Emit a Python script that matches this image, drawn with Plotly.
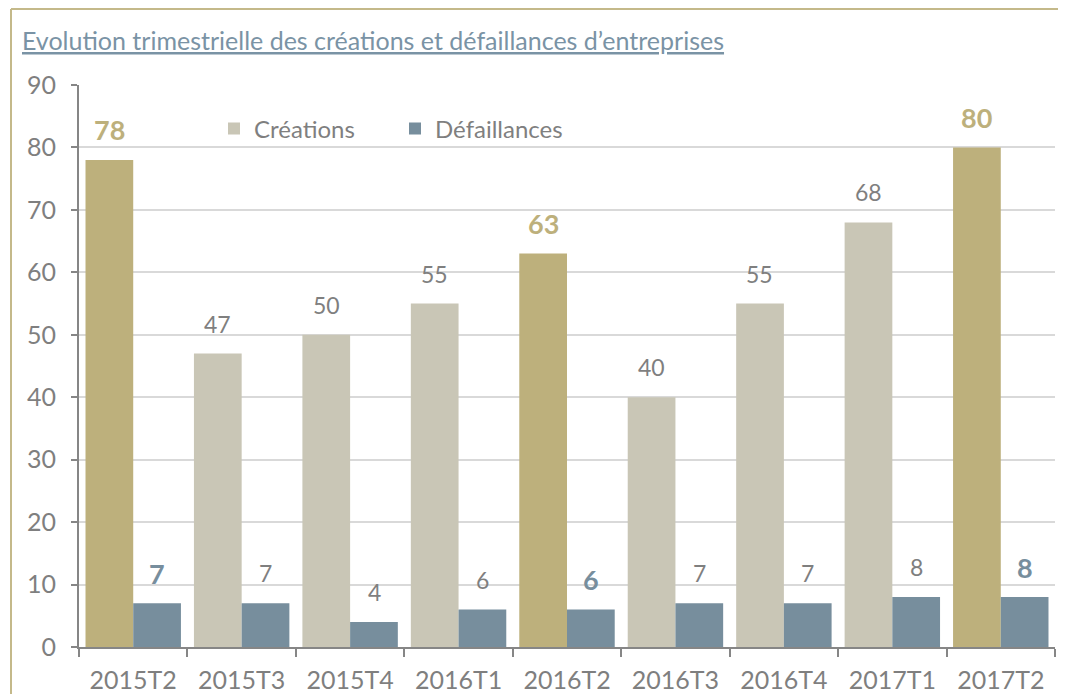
import plotly.graph_objects as go

categories = ["2015T2", "2015T3", "2015T4", "2016T1", "2016T2", "2016T3", "2016T4", "2017T1", "2017T2"]
creations = [78, 47, 50, 55, 63, 40, 55, 68, 80]
defaillances = [7, 7, 4, 6, 6, 7, 7, 8, 8]
highlight = [True, False, False, False, True, False, False, False, True]
y_ticks = [0, 10, 20, 30, 40, 50, 60, 70, 80, 90]

GOLD = "#BDB07C"
BEIGE = "#C9C6B6"
BLUE = "#778E9D"
GREY = "#7F7F7F"
FONT = "Lato"

crea_colors = [GOLD if h else BEIGE for h in highlight]

# page offset (body margin of the html page); figure sized to fit the window
OFF = 8
W, H = 1058, 686
L, R, T, B = 71, 11, 77, 47
pw, ph = W - L - R, H - T - B


def px_x(p):
    return (p - OFF - L) / pw


def px_y(p):
    return (H - B - (p - OFF)) / ph


fig = go.Figure()
fig.add_trace(go.Bar(x=categories, y=creations, marker=dict(color=crea_colors, line=dict(width=0)),
                     showlegend=False, name="Créations"))
fig.add_trace(go.Bar(x=categories, y=defaillances, marker=dict(color=BLUE, line=dict(width=0)),
                     showlegend=False, name="Défaillances"))
# legend proxies
fig.add_trace(go.Scatter(x=[None], y=[None], mode="markers", name="Créations",
                         marker=dict(symbol="square", size=14, color=BEIGE)))
fig.add_trace(go.Scatter(x=[None], y=[None], mode="markers", name="Défaillances",
                         marker=dict(symbol="square", size=14, color=BLUE)))

annotations = []
for c, v, h in zip(categories, creations, highlight):
    annotations.append(dict(x=c, y=v, xref="x", yref="y", text=f"<b>{v}</b>" if h else str(v),
                            showarrow=False, xshift=-24, yshift=30, yanchor="middle",
                            font=dict(family=FONT, size=27 if h else 23, color=GOLD if h else GREY)))
for c, v, h in zip(categories, defaillances, highlight):
    annotations.append(dict(x=c, y=v, xref="x", yref="y", text=f"<b>{v}</b>" if h else str(v),
                            showarrow=False, xshift=24, yshift=30, yanchor="middle",
                            font=dict(family=FONT, size=27 if h else 23, color=BLUE if h else GREY)))
annotations.append(dict(x=px_x(20), y=px_y(40), xref="paper", yref="paper",
                        text="Evolution trimestrielle des créations et défaillances d’entreprises",
                        showarrow=False, xanchor="left", yanchor="middle",
                        font=dict(family=FONT, size=25, color="#7A93A5", lineposition="under")))

bx, by = px_x(11), px_y(9)
border = dict(color="#C4B98A", width=2)
fig.update_layout(
    width=W, height=H,
    margin=dict(l=L, r=R, t=T, b=B),
    paper_bgcolor="white", plot_bgcolor="white",
    barmode="group", bargap=0.12, bargroupgap=0,
    font=dict(family=FONT, color=GREY, size=22),
    annotations=annotations,
    legend=dict(orientation="h", x=px_x(214), y=px_y(129), xanchor="left", yanchor="middle",
                font=dict(family=FONT, size=24, color=GREY), bgcolor="rgba(0,0,0,0)",
                entrywidth=136, itemsizing="constant"),
    shapes=[
        dict(type="line", xref="paper", yref="paper", x0=bx, x1=bx, y0=px_y(700), y1=by,
             line=border, layer="below"),
        dict(type="line", xref="paper", yref="paper", x0=bx, x1=px_x(1066), y0=by, y1=by,
             line=border, layer="below"),
    ],
)
fig.update_xaxes(type="category", showline=True, linecolor="#868686", linewidth=2,
                 ticks="outside", tickson="boundaries", ticklen=8, tickcolor="#868686", tickwidth=2,
                 ticklabelstandoff=10, automargin=False,
                 tickfont=dict(family=FONT, size=25, color=GREY), showgrid=False)
fig.update_yaxes(range=[0, 90], tickvals=y_ticks, showline=True, linecolor="#868686", linewidth=2,
                 ticks="outside", ticklen=6, tickcolor="#868686", tickwidth=2,
                 ticklabelstandoff=10, automargin=False,
                 showgrid=True, gridcolor="#D9D9D9", gridwidth=2, zeroline=False,
                 tickfont=dict(family=FONT, size=25, color=GREY))

fig.write_html("out.html")
